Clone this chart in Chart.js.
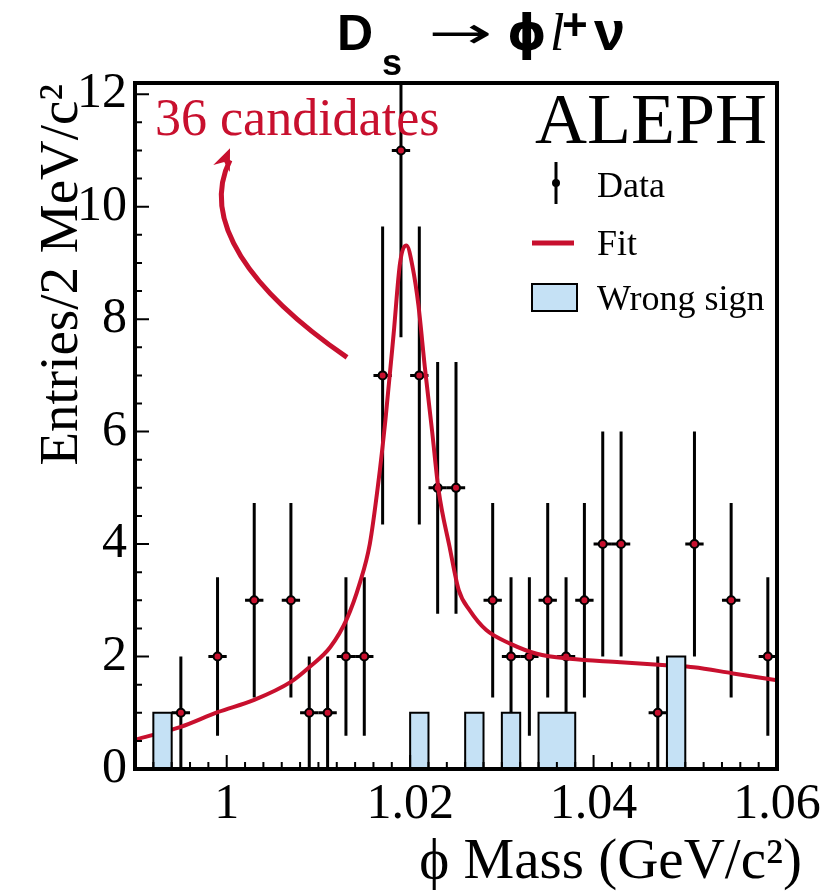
<!DOCTYPE html>
<html>
<head>
<meta charset="utf-8">
<script src="https://cdn.jsdelivr.net/npm/chart.js@4.4.0/dist/chart.umd.min.js"></script>
<style>
  html, body { margin: 0; padding: 0; background: #fff; }
  #wrap { width: 838px; height: 891px; position: relative; }
</style>
</head>
<body>
<div id="wrap"><canvas id="massChart"></canvas></div>
<script>
// phi candidate mass, 2 MeV bins between 0.990 and 1.060 GeV/c^2
const xMin = 0.99;
const xMax = 1.06;
const yMax = 12.2;
const binHalf = 0.001;

const xTicks = [1.00, 1.02, 1.04, 1.06];
const yTicks = [0, 2, 4, 6, 8, 10, 12];

// right-sign candidates (non-empty bins only)
const dataMass = [0.995, 0.999, 1.003, 1.007, 1.009, 1.011, 1.013, 1.015, 1.017, 1.019,
                  1.021, 1.023, 1.025, 1.029, 1.031, 1.033, 1.035, 1.037, 1.039, 1.041,
                  1.043, 1.047, 1.051, 1.055, 1.059];
const dataEntries = [1, 2, 3, 3, 1, 1, 2, 2, 7, 11,
                     7, 5, 5, 3, 2, 2, 3, 2, 3, 4,
                     4, 1, 4, 3, 2];
const dataErrors = [1, 1.41, 1.73, 1.73, 1, 1, 1.41, 1.41, 2.65, 3.32,
                    2.65, 2.24, 2.24, 1.73, 1.41, 1.41, 1.73, 1.41, 1.73, 2,
                    2, 1, 2, 1.73, 1.41];

// wrong-sign combinations
const wrongMass = [0.993, 1.021, 1.027, 1.031, 1.035, 1.037, 1.049];
const wrongEntries = [1, 1, 1, 1, 1, 1, 2];

// fitted signal + background shape
const fitMass = [0.990, 0.995, 0.999, 1.003, 1.007, 1.009, 1.0113, 1.0131, 1.0145, 1.0156,
                 1.0165, 1.0173, 1.0182, 1.0189, 1.0196, 1.0203, 1.0209, 1.0216, 1.0224, 1.0231,
                 1.0243, 1.0253, 1.0265, 1.0283, 1.0309, 1.0338, 1.0374, 1.0429, 1.0483, 1.0509,
                 1.0552, 1.0600];
const fitValues = [0.52, 0.75, 1.01, 1.23, 1.55, 1.81, 2.17, 2.67, 3.30, 4.0,
                   5.05, 6.2, 7.74, 9.0, 9.31, 8.9, 8.25, 7.15, 6.0, 4.96,
                   3.95, 3.18, 2.82, 2.47, 2.23, 2.05, 1.96, 1.90, 1.84, 1.81,
                   1.70, 1.58];

// annotation arrow (bezier control points, data units)
const arrowPath = [[1.01312, 7.32], [1.00254, 8.51], [0.99709, 9.76], [1.00036, 11.04]];

const RED = '#c8102e';
const BLUE = '#c5e1f5';
const SERIF = "'Liberation Serif', 'Times New Roman', serif";
const SANS = "'Liberation Sans', Arial, sans-serif";

// step outline for the wrong-sign histogram, one point per low bin edge
function histSteps() {
    const pts = [];
    const nBins = Math.round((xMax - xMin) / (2 * binHalf));
    for (let i = 0; i < nBins; i++) {
        const lo = xMin + i * 2 * binHalf;
        const k = wrongMass.findIndex(m => Math.abs(m - (lo + binHalf)) < 1e-6);
        pts.push({ x: lo, y: k >= 0 ? wrongEntries[k] : 0 });
    }
    pts.push({ x: xMax, y: 0 });
    return pts;
}

const errorBars = {
    id: 'errorBars',
    beforeDatasetsDraw(chart) {
        const { ctx, chartArea: a, scales: { x, y } } = chart;
        ctx.save();
        ctx.beginPath();
        ctx.rect(a.left, a.top, a.right - a.left, a.bottom - a.top);
        ctx.clip();
        ctx.strokeStyle = '#000';
        ctx.lineWidth = 3;
        dataMass.forEach((m, i) => {
            const px = x.getPixelForValue(m);
            const py = y.getPixelForValue(dataEntries[i]);
            ctx.beginPath();
            ctx.moveTo(px, y.getPixelForValue(dataEntries[i] - dataErrors[i]));
            ctx.lineTo(px, y.getPixelForValue(dataEntries[i] + dataErrors[i]));
            ctx.moveTo(x.getPixelForValue(m - binHalf), py);
            ctx.lineTo(x.getPixelForValue(m + binHalf), py);
            ctx.stroke();
        });
        ctx.restore();
    }
};

const frameAndText = {
    id: 'frameAndText',
    afterDraw(chart) {
        const { ctx, chartArea: a, scales: { x, y } } = chart;
        ctx.save();

        // inward tick marks
        ctx.strokeStyle = '#000';
        ctx.lineWidth = 2;
        ctx.beginPath();
        for (let v = xMin; v <= xMax + 1e-9; v += 0.002) {
            const major = xTicks.some(t => Math.abs(t - v) < 1e-6);
            const px = x.getPixelForValue(v);
            ctx.moveTo(px, a.bottom);
            ctx.lineTo(px, a.bottom - (major ? 14 : 7));
        }
        for (let v = 0; v <= yMax; v += 0.5) {
            const major = yTicks.includes(v);
            const py = y.getPixelForValue(v);
            ctx.moveTo(a.left, py);
            ctx.lineTo(a.left + (major ? 14 : 7), py);
        }
        ctx.stroke();

        // frame
        ctx.lineWidth = 4;
        ctx.strokeRect(a.left, a.top, a.right - a.left, a.bottom - a.top);

        // axis titles
        ctx.fillStyle = '#000';
        ctx.textAlign = 'right';
        ctx.textBaseline = 'alphabetic';
        ctx.font = `57px ${SERIF}`;
        ctx.fillText('\u03d5 Mass (GeV/c\u00b2)', 802, 878);
        ctx.save();
        ctx.translate(77, 84);
        ctx.rotate(-Math.PI / 2);
        ctx.font = `55px ${SERIF}`;
        ctx.fillText('Entries/2 MeV/c\u00b2', 0, 0);
        ctx.restore();

        // title: Ds -> phi l+ nu
        ctx.textAlign = 'left';
        ctx.font = `bold 50px ${SANS}`;
        ctx.fillText('D', 337, 50);
        ctx.font = `bold 36px ${SANS}`;
        ctx.fillText('s', 382, 75);
        ctx.font = `44px 'DejaVu Sans'`;
        const aw = ctx.measureText('\u2192').width;
        ctx.save();
        ctx.translate(428, 48);
        ctx.scale(64 / aw, 1);
        ctx.fillText('\u2192', 0, 0);
        ctx.restore();
        ctx.font = `bold 50px 'DejaVu Sans'`;
        ctx.fillText('\u03d5', 507, 50);
        ctx.font = `italic 52px ${SERIF}`;
        ctx.fillText('l', 550, 50);
        ctx.font = `bold 44px ${SANS}`;
        ctx.fillText('+', 562, 40);
        ctx.font = `bold 56px ${SANS}`;
        ctx.fillText('\u03bd', 594, 50);

        // experiment label and candidate count
        ctx.font = `72px ${SERIF}`;
        ctx.textAlign = 'right';
        ctx.fillText('ALEPH', 767, 143);
        ctx.textAlign = 'left';
        ctx.fillStyle = RED;
        ctx.font = `52px ${SERIF}`;
        ctx.fillText('36 candidates', 155, 135);

        // curved arrow pointing to the count
        const p = arrowPath.map(([m, v]) => [x.getPixelForValue(m), y.getPixelForValue(v)]);
        ctx.strokeStyle = RED;
        ctx.lineWidth = 5;
        ctx.beginPath();
        ctx.moveTo(p[0][0], p[0][1]);
        ctx.bezierCurveTo(p[1][0], p[1][1], p[2][0], p[2][1], p[3][0], p[3][1] + 12);
        ctx.stroke();
        const dx = p[3][0] - p[2][0], dy = p[3][1] - p[2][1];
        const len = Math.hypot(dx, dy);
        const ux = dx / len, uy = dy / len;
        const bx = p[3][0] - ux * 22, by = p[3][1] - uy * 22;
        ctx.beginPath();
        ctx.moveTo(p[3][0], p[3][1]);
        ctx.lineTo(bx - uy * 9, by + ux * 9);
        ctx.lineTo(p[3][0] - ux * 15, p[3][1] - uy * 15);
        ctx.lineTo(bx + uy * 9, by - ux * 9);
        ctx.closePath();
        ctx.fillStyle = RED;
        ctx.fill();

        // legend
        ctx.fillStyle = '#000';
        ctx.strokeStyle = '#000';
        ctx.lineWidth = 3;
        ctx.beginPath();
        ctx.moveTo(556, 162);
        ctx.lineTo(556, 204);
        ctx.stroke();
        ctx.beginPath();
        ctx.arc(556, 183, 4, 0, Math.PI * 2);
        ctx.fill();
        ctx.strokeStyle = RED;
        ctx.lineWidth = 5;
        ctx.beginPath();
        ctx.moveTo(532, 243);
        ctx.lineTo(574, 243);
        ctx.stroke();
        ctx.fillStyle = BLUE;
        ctx.fillRect(532, 284, 45, 27);
        ctx.strokeStyle = '#000';
        ctx.lineWidth = 2;
        ctx.strokeRect(532, 284, 45, 27);
        ctx.fillStyle = '#000';
        ctx.font = `36px ${SERIF}`;
        ctx.fillText('Data', 597, 197);
        ctx.fillText('Fit', 597, 255);
        ctx.fillText('Wrong sign', 597, 310);

        ctx.restore();
    }
};

new Chart(document.getElementById('massChart'), {
    type: 'scatter',
    data: {
        datasets: [
            {
                label: 'Wrong sign',
                type: 'line',
                data: histSteps(),
                stepped: true,
                fill: 'origin',
                backgroundColor: BLUE,
                borderColor: '#000',
                borderWidth: 2,
                pointRadius: 0,
                order: 0
            },
            {
                label: 'Fit',
                type: 'line',
                data: fitMass.map((m, i) => ({ x: m, y: fitValues[i] })),
                borderColor: RED,
                borderWidth: 4,
                cubicInterpolationMode: 'monotone',
                pointRadius: 0,
                fill: false,
                order: 1
            },
            {
                label: 'Data',
                data: dataMass.map((m, i) => ({ x: m, y: dataEntries[i] })),
                pointRadius: 4,
                backgroundColor: RED,
                borderColor: '#000',
                borderWidth: 2,
                order: 2
            }
        ]
    },
    options: {
        responsive: true,
        maintainAspectRatio: false,
        animation: false,
        layout: { padding: { top: 83, right: 61, left: 0, bottom: 0 } },
        plugins: { legend: { display: false }, tooltip: { enabled: false } },
        scales: {
            x: {
                type: 'linear',
                min: xMin,
                max: xMax,
                grid: { display: false, drawTicks: false },
                border: { display: false },
                afterBuildTicks: s => { s.ticks = xTicks.map(v => ({ value: v })); },
                afterFit: s => { s.height = 122; },
                ticks: {
                    color: '#000',
                    padding: 6,
                    maxRotation: 0,
                    font: { family: SERIF, size: 50 },
                    callback: v => String(+v.toFixed(2))
                }
            },
            y: {
                min: 0,
                max: yMax,
                grid: { display: false, drawTicks: false },
                border: { display: false },
                afterBuildTicks: s => { s.ticks = yTicks.map(v => ({ value: v })); },
                afterFit: s => { s.width = 135; },
                ticks: {
                    color: '#000',
                    padding: 8,
                    font: { family: SERIF, size: 50 },
                    callback: v => String(v)
                }
            }
        }
    },
    plugins: [errorBars, frameAndText]
});
</script>
</body>
</html>
